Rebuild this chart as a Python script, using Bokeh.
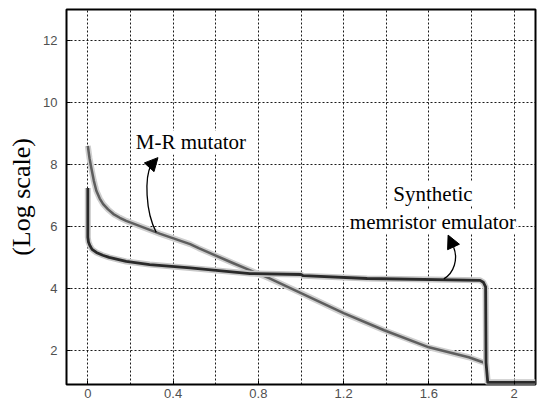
from bokeh.plotting import figure
from bokeh.models import FixedTicker, Label, Arrow, NormalHead, Range1d
from bokeh.embed import file_html
from bokeh.resources import INLINE

# ---- data ----
mr_x = [0.0, 0.008, 0.016, 0.028, 0.04, 0.056, 0.072, 0.095, 0.12, 0.15, 0.18, 0.26, 0.34,
        0.48, 0.52, 0.68, 0.85, 1.0, 1.2, 1.39, 1.6, 1.787, 1.873]
mr_y = [8.6, 8.2, 7.9, 7.48, 7.15, 6.9, 6.72, 6.55, 6.4, 6.28, 6.18, 5.97, 5.76,
        5.43, 5.3, 4.82, 4.33, 3.85, 3.2, 2.65, 2.1, 1.78, 1.57]

em_x = [0.0, 0.0, 0.003, 0.01, 0.02, 0.04, 0.07, 0.1, 0.18, 0.29, 0.48, 0.76, 1.0, 1.01,
        1.31, 1.84, 1.855, 1.866, 1.868, 1.876, 2.1]
em_y = [7.24, 5.65, 5.5, 5.38, 5.26, 5.16, 5.07, 5.0, 4.87, 4.77, 4.66, 4.48, 4.45, 4.41,
        4.32, 4.26, 4.2, 4.05, 1.6, 0.97, 0.97]

x_ticks = [0, 0.4, 0.8, 1.2, 1.6, 2.0]
x_tick_labels = ["0", "0.4", "0.8", "1.2", "1.6", "2"]
x_grid = [0, 0.2, 0.4, 0.6, 0.8, 1.0, 1.2, 1.4, 1.6, 1.8, 2.0]
y_ticks = [2, 4, 6, 8, 10, 12]

y_label = "(Log scale)"
mr_label = "M-R mutator"
em_label_1 = "Synthetic"
em_label_2 = "memristor emulator"

# arrows (start, control points, end) in data units
mr_arrow = dict(x0=0.321, y0=5.81, cx0=0.268, cy0=6.5, cx1=0.268, cy1=7.6, x1=0.296, y1=7.97,
                tipx=0.329, tipy=8.22)
em_arrow = dict(x0=1.670, y0=4.31, cx0=1.718, cy0=4.5, cx1=1.738, cy1=4.95, x1=1.716, y1=5.33,
                tipx=1.690, tipy=5.72)

p = figure(width=538, height=400, output_backend="svg", toolbar_location=None,
           x_range=Range1d(-0.1, 2.1), y_range=Range1d(0.9, 13.0),
           min_border_left=66, min_border_right=3, min_border_top=9, min_border_bottom=0)

p.background_fill_color = "white"
p.border_fill_color = "white"
p.outline_line_color = "black"
p.outline_line_width = 2

# axes
for ax in (p.xaxis, p.yaxis):
    ax.axis_line_color = None
    ax.major_tick_in = 4
    ax.major_tick_out = 0
    ax.major_tick_line_color = "black"
    ax.minor_tick_line_color = None
    ax.major_label_text_font = "Liberation Sans"
    ax.major_label_text_font_size = "13px"
    ax.major_label_text_color = "#505050"

p.xaxis.ticker = FixedTicker(ticks=x_ticks)
p.xaxis.major_label_overrides = {t: s for t, s in zip(x_ticks, x_tick_labels)}
p.xaxis.major_label_standoff = 4
p.yaxis.ticker = FixedTicker(ticks=y_ticks)
p.yaxis.major_label_standoff = 9
p.yaxis.axis_label = y_label
p.yaxis.axis_label_text_font = "Liberation Serif"
p.yaxis.axis_label_text_font_style = "normal"
p.yaxis.axis_label_text_font_size = "26px"
p.yaxis.axis_label_text_color = "black"
p.yaxis.axis_label_standoff = 4

# grid
p.xgrid.ticker = FixedTicker(ticks=x_grid)
p.ygrid.ticker = FixedTicker(ticks=y_ticks)
for g in (p.xgrid, p.ygrid):
    g.grid_line_color = "black"
    g.grid_line_width = 1
    g.grid_line_dash = "2 2"
    g.grid_line_alpha = 0.9

# curves with a light halo (scanned look)
p.line(mr_x, mr_y, line_color="#cfcfcf", line_width=6, line_join="round")
p.line(mr_x, mr_y, line_color="#5e5e5e", line_width=2.5, line_join="round")
p.line(em_x, em_y, line_color="#c8c8c8", line_width=6, line_join="round")
p.line(em_x, em_y, line_color="#2a2a2a", line_width=2.8, line_join="round")

# text labels (added first so the arrowheads are drawn over their white boxes)
def add_label(x, y, text, align):
    p.add_layout(Label(x=x, y=y, text=text, text_align=align, text_baseline="alphabetic",
                       text_font="'Liberation Serif', 'Times New Roman', serif",
                       text_font_size="21px",
                       text_color="black", background_fill_color="white",
                       background_fill_alpha=1.0))

add_label(0.225, 8.71, mr_label, "left")
add_label(1.619, 7.06, em_label_1, "center")
add_label(1.619, 6.15, em_label_2, "center")

# annotation arrows
for a in (mr_arrow, em_arrow):
    p.bezier(x0=[a["x0"]], y0=[a["y0"]], x1=[a["x1"]], y1=[a["y1"]],
             cx0=[a["cx0"]], cy0=[a["cy0"]], cx1=[a["cx1"]], cy1=[a["cy1"]],
             line_color="black", line_width=1.3)
    p.add_layout(Arrow(x_start=a["x1"], y_start=a["y1"], x_end=a["tipx"], y_end=a["tipy"],
                       line_color="black", line_width=1.3, level="overlay",
                       end=NormalHead(size=13, fill_color="black", line_color="black",
                                      line_width=1)))

open("out.html", "w").write(file_html(p, INLINE))
